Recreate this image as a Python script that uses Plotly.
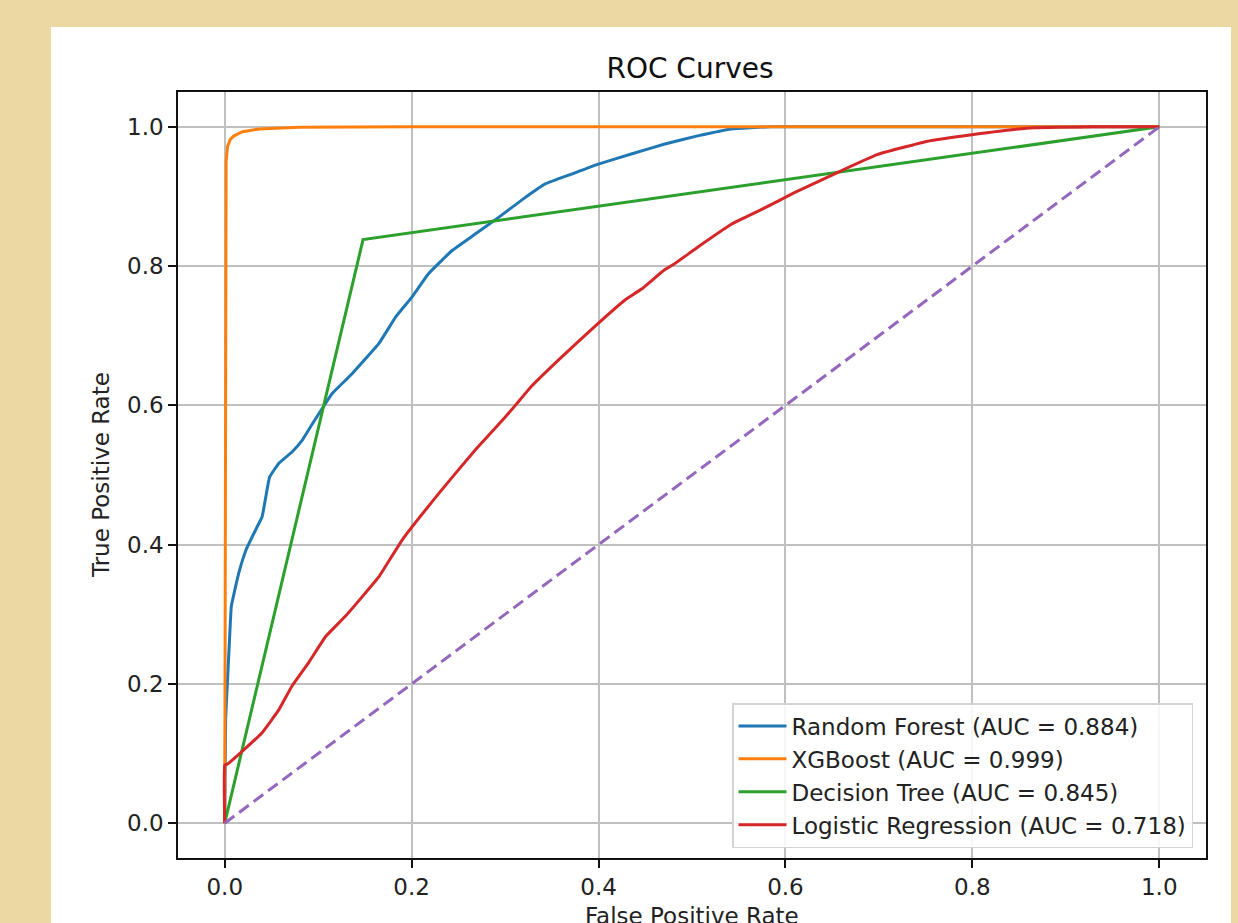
import plotly.graph_objects as go

# ---- data ----
rf_fpr = [0, 0.0005, 0.001, 0.003, 0.005, 0.007, 0.010, 0.016, 0.023, 0.033, 0.040, 0.044, 0.048,
          0.058, 0.072, 0.083, 0.094, 0.105, 0.115, 0.136, 0.165, 0.183, 0.200, 0.218, 0.243, 0.268,
          0.293, 0.321, 0.343, 0.371, 0.399, 0.435, 0.470, 0.506, 0.542, 0.584, 0.65, 0.8, 1.0]
rf_tpr = [0, 0.08, 0.15, 0.206, 0.26, 0.311, 0.330, 0.364, 0.393, 0.421, 0.440, 0.469, 0.497,
          0.517, 0.533, 0.550, 0.574, 0.597, 0.617, 0.645, 0.689, 0.727, 0.755, 0.789, 0.822, 0.846,
          0.870, 0.898, 0.918, 0.932, 0.946, 0.961, 0.975, 0.987, 0.997, 1.0, 1.0, 1.0, 1.0]

xgb_fpr = [0, 0.0005, 0.001, 0.0015, 0.003, 0.006, 0.010, 0.019, 0.037, 0.08, 0.2, 1.0]
xgb_tpr = [0, 0.5, 0.9, 0.95, 0.972, 0.982, 0.987, 0.993, 0.997, 0.9995, 1.0, 1.0]

dt_fpr = [0, 0.148, 1.0]
dt_tpr = [0, 0.838, 1.0]

lr_fpr = [0, 0, 0.003, 0.021, 0.040, 0.058, 0.072, 0.090, 0.108, 0.129, 0.147, 0.165, 0.190, 0.23,
          0.268, 0.300, 0.311, 0.328, 0.357, 0.399, 0.428, 0.446, 0.470, 0.481, 0.506, 0.542, 0.574,
          0.609, 0.655, 0.698, 0.751, 0.801, 0.858, 0.929, 1.0]
lr_tpr = [0, 0.083, 0.085, 0.106, 0.130, 0.163, 0.197, 0.231, 0.268, 0.297, 0.325, 0.354, 0.407, 0.475,
          0.536, 0.583, 0.600, 0.627, 0.665, 0.717, 0.751, 0.767, 0.794, 0.803, 0.827, 0.860, 0.881,
          0.905, 0.934, 0.960, 0.979, 0.989, 0.998, 1.0, 1.0]

diag = [0, 1]

names = ["Random Forest (AUC = 0.884)", "XGBoost (AUC = 0.999)",
         "Decision Tree (AUC = 0.845)", "Logistic Regression (AUC = 0.718)"]
colors = ["#1f77b4", "#ff7f0e", "#2ca02c", "#d62728"]
shapes_line = ["spline", "linear", "linear", "spline"]

tick_vals = [0.0, 0.2, 0.4, 0.6, 0.8, 1.0]
tick_text = ["0.0", "0.2", "0.4", "0.6", "0.8", "1.0"]

FONT = "DejaVu Sans"
W, H = 1238, 923
L, R, T, B = 178, 1206, 92, 858

fig = go.Figure()
for (xs, ys), name, col, shp in zip([(rf_fpr, rf_tpr), (xgb_fpr, xgb_tpr), (dt_fpr, dt_tpr), (lr_fpr, lr_tpr)],
                                    names, colors, shapes_line):
    line = dict(color=col, width=3, shape=shp)
    if shp == "spline":
        line["smoothing"] = 0.3
    fig.add_trace(go.Scatter(x=xs, y=ys, mode="lines", name=name, line=line))
fig.add_trace(go.Scatter(x=diag, y=diag, mode="lines", showlegend=False,
                         line=dict(color="#9467bd", width=3, dash="12px,6px")))

def px_x(p):
    return (p - L) / (R - L)

def px_y(p):
    return (B - p) / (B - T)

axis_common = dict(
    tickvals=tick_vals, ticktext=tick_text, range=[-0.05, 1.05],
    showgrid=True, gridcolor="#c0c0c0", gridwidth=1.6,
    zeroline=False, showline=True, linecolor="#111111", linewidth=1.6, mirror=True,
    ticks="outside", ticklen=8, tickwidth=1.6, tickcolor="#111111",
    tickfont=dict(family=FONT, size=23, color="#222222"),
)

fig.update_layout(
    width=W, height=H,
    margin=dict(l=L, r=W - R, t=T, b=H - B),
    paper_bgcolor="#EBD8A2",
    plot_bgcolor="white",
    title=dict(text="ROC Curves", x=px_x(690), xref="paper", xanchor="center",
               y=(H - 68) / H, yref="container", yanchor="middle",
               font=dict(family=FONT, size=28, color="#111111")),
    xaxis=dict(**axis_common),
    yaxis=dict(**axis_common),
    legend=dict(x=px_x(1193), y=px_y(848), xanchor="right", yanchor="bottom",
                bgcolor="rgba(255,255,255,0.85)", bordercolor="#d4d4d4", borderwidth=1.5,
                font=dict(family=FONT, size=23, color="#222222"),
                tracegroupgap=0, itemwidth=48),
    shapes=[dict(type="rect", xref="paper", yref="paper",
                 x0=px_x(51), x1=px_x(1231), y0=px_y(930), y1=px_y(27),
                 fillcolor="white", line=dict(width=0), layer="below")],
    annotations=[
        dict(text="False Positive Rate", xref="paper", yref="paper", x=0.5, y=px_y(916),
             xanchor="center", yanchor="middle", showarrow=False,
             font=dict(family=FONT, size=23, color="#222222")),
        dict(text="True Positive Rate", xref="paper", yref="paper", x=px_x(101), y=px_y(475),
             xanchor="center", yanchor="middle", showarrow=False, textangle=-90,
             font=dict(family=FONT, size=23, color="#222222")),
    ],
)

fig.write_html("out.html", config={"displayModeBar": False},
               post_script="document.body.style.margin='0';document.body.style.overflow='hidden';")
